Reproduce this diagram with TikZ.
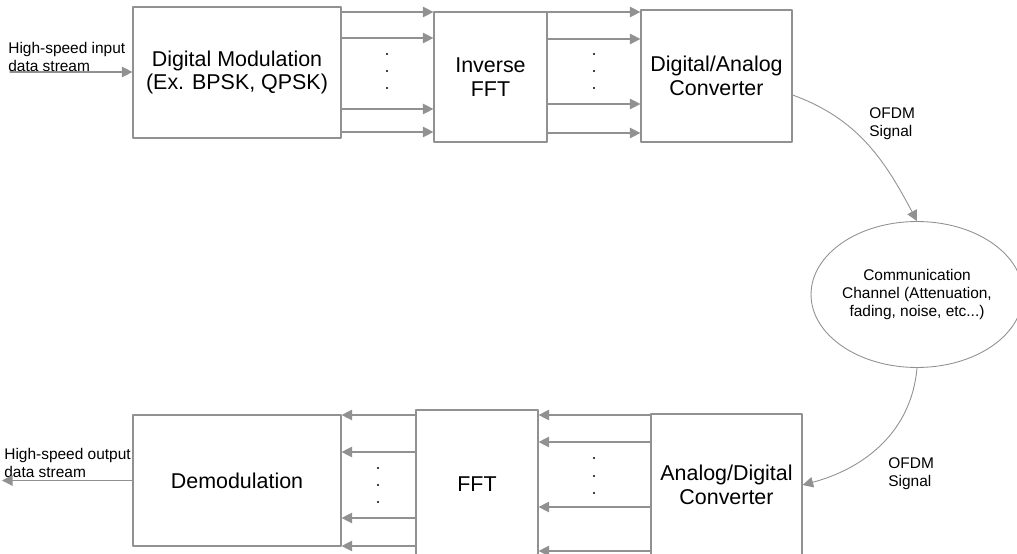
\documentclass[tikz,border=0pt]{standalone}
\usepackage{fontspec}
\setmainfont{Liberation Sans}
\usetikzlibrary{arrows.meta}
\usetikzlibrary{shapes.geometric}
\definecolor{linegray}{RGB}{145,145,145}

\begin{document}
\begin{tikzpicture}[line cap=round,line join=round,x=0.02cm,y=-0.02cm,
	>={Triangle[length=6pt,width=6pt]},
	block/.style={draw=linegray,line width=0.7pt,inner sep=0pt,align=center,font=\fontsize{12.2}{13.6}\selectfont},
	chan/.style={ellipse,draw=linegray,line width=0.5pt,inner sep=0pt,align=center,font=\fontsize{8.8}{10.2}\selectfont},
	small/.style={anchor=north west,inner sep=0pt,align=left,font=\fontsize{8.8}{10.2}\selectfont},
	link/.style={->,draw=linegray,line width=0.7pt},
	wave/.style={->,draw=linegray,line width=0.5pt}]
	\useasboundingbox (0,0) rectangle (1017,554);
	\clip (0,0) rectangle (1017,554);
	% transmitter
	\node[block,minimum width=4.16cm,minimum height=2.62cm] (dm) at (237,72.5) {Digital Modulation\\(Ex. BPSK, QPSK)};
	\node[block,minimum width=2.26cm,minimum height=2.6cm] (ifft) at (490.5,77) {Inverse\\FFT};
	\node[block,minimum width=3.02cm,minimum height=2.64cm] (dac) at (716.5,76) {Digital/Analog\\Converter};
	\node[chan,minimum width=4.24cm,minimum height=2.92cm] (ch) at (917,294.5) {Communication\\Channel (Attenuation,\\fading, noise, etc...)};
	% receiver
	\node[block,minimum width=3.02cm,minimum height=2.84cm] (adc) at (726.5,485) {Analog/Digital\\Converter};
	\node[block,minimum width=2.44cm,minimum height=2.96cm] (fft) at (477,484) {FFT};
	\node[block,minimum width=4.16cm,minimum height=2.62cm] (demod) at (237,480.5) {Demodulation};
	% labels
	\node[small] (inlbl) at (8,42) {High-speed input\\data stream};
	\node[small] (outlbl) at (4,448) {High-speed output\\data stream};
	\node[small] (sig1) at (869,107) {OFDM\\Signal};
	\node[small] (sig2) at (888,457) {OFDM\\Signal};
	\coordinate (in) at (10,72);
	\coordinate (out) at (2,480.5);
	% arrows
	\draw[link] (in) -- (dm.west |- in);
	\foreach \y in {12,38,109,132}
		\draw[link] (dm.east |- 0,\y) -- (ifft.west |- 0,\y);
	\foreach \y in {12,39,104,133}
		\draw[link] (ifft.east |- 0,\y) -- (dac.west |- 0,\y);
	\foreach \y in {415,442,507,551}
		\draw[link] (adc.west |- 0,\y) -- (fft.east |- 0,\y);
	\foreach \y in {415,452,518,546}
		\draw[link] (fft.west |- 0,\y) -- (demod.east |- 0,\y);
	\draw[link] (demod.west) -- (out);
	\draw[wave] (dac.east |- 0,95) to[out=-20,in=118] (ch.north);
	\draw[wave] (ch.south) to[out=-95,in=15] (adc.east);
	% dots
	\foreach \y in {54,71,88} {
		\fill (387,\y) circle (0.6pt);
		\fill (594,\y) circle (0.6pt);
	}
	\foreach \y in {458,476,493}
		\fill (594,\y) circle (0.6pt);
	\foreach \y in {468,485,502}
		\fill (378,\y) circle (0.6pt);
\end{tikzpicture}
\end{document}
